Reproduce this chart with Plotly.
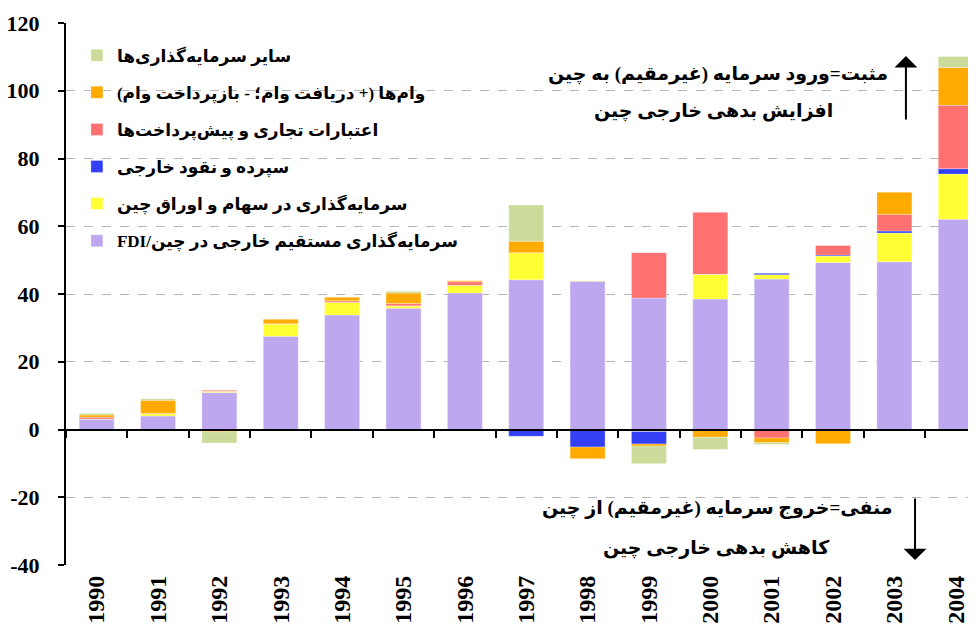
import plotly.graph_objects as go

# Years on the x axis
years = [str(y) for y in range(1990, 2005)]

# Capital flow components (billion USD)
fdi = [3.1, 4.0, 10.9, 27.5, 33.8, 35.8, 40.3, 44.2, 43.8, 38.8, 38.5, 44.4, 49.3, 49.5, 62.1]
portfolio = [0, 0.7, 0.4, 3.7, 3.8, 0.7, 2.3, 8.0, 0.2, -0.6, 7.3, 1.3, 1.9, 8.5, 13.3]
deposits = [0, 0, 0, 0, 0, 0, 0, -2.0, -5.2, -3.7, 0, 0.4, 0.3, 0.6, 1.6]
trade_credit = [0.5, 0, 0.3, 0, 0.4, 0.7, 1.0, 0, 0, 13.4, 18.3, -2.5, 2.9, 4.9, 18.7]
loans = [0.7, 3.9, -0.7, 1.4, 1.1, 3.1, 0.4, 3.4, -3.4, -0.6, -2.3, -1.4, -4.2, 6.6, 11.2]
other = [0.5, 0.5, -3.3, 0, 0, 0.5, 0, 10.7, 0, -5.2, -3.6, -0.5, 0, 0, 3.2]

y_ticks = [-40, -20, 0, 20, 40, 60, 80, 100, 120]

RLE, PDF = "\u202b", "\u202c"
series = [
    ("FDI/" + "سرمایه‌گذاری مستقیم خارجی در چین", fdi, "#BDA7EF"),
    (RLE + "سرمایه‌گذاری در سهام و اوراق چین" + PDF, portfolio, "#FFFF33"),
    (RLE + "سپرده و نقود خارجی" + PDF, deposits, "#3340F5"),
    (RLE + "اعتبارات تجاری و پیش‌پرداخت‌ها" + PDF, trade_credit, "#FF7070"),
    (RLE + "وام‌ها (+ دریافت وام؛ - بازپرداخت وام)" + PDF, loans, "#FFAA00"),
    (RLE + "سایر سرمایه‌گذاری‌ها" + PDF, other, "#CBDC9A"),
]

fig = go.Figure()
for i, (name, vals, color) in enumerate(series):
    fig.add_trace(go.Bar(
        x=years, y=vals, name=name, legendgroup=str(i), legendrank=len(series) - i,
        marker=dict(color=color, line=dict(color="rgba(255,255,255,0.6)", width=0.5)),
    ))

# invisible helper so the zero-line axis carries the category ticks
fig.add_trace(go.Scatter(x=years, y=[0] * len(years), xaxis="x2", mode="markers",
                         marker=dict(opacity=0), showlegend=False, hoverinfo="skip"))

serif = "Liberation Serif, DejaVu Sans"
fa_font = dict(family=serif, size=19, color="black", weight="bold")
tick_font = dict(family="Liberation Serif", size=22, color="black", weight="bold")

# page body has an 8px margin, so margins are trimmed by 8px on the left/top;
# the original plot runs a little past the right edge, hence the short x range
fig.update_layout(
    barmode="relative",
    bargap=0.43,
    width=976, height=633,
    margin=dict(l=58, r=8, t=15, b=76, autoexpand=False),
    plot_bgcolor="white", paper_bgcolor="white",
    showlegend=True,
    legend=dict(x=0.012, y=0.973, xanchor="left", yanchor="top",
                traceorder="grouped", tracegroupgap=12,
                font=dict(family=serif, size=17, color="black", weight="bold"),
                bgcolor="rgba(0,0,0,0)"),
    xaxis=dict(type="category", range=[-0.5, 14.33], showline=False, ticks="", showgrid=False,
               tickangle=-90, automargin=False, ticklabelstandoff=5,
               tickfont=dict(tick_font, size=24)),
    xaxis2=dict(type="category", overlaying="x", matches="x", anchor="free", position=0.25,
                showline=True, linecolor="black", linewidth=2,
                ticks="outside", tickson="boundaries", ticklen=7, tickwidth=2, tickcolor="black",
                showticklabels=False, showgrid=False),
    yaxis=dict(range=[-40, 120], tickvals=y_ticks, ticktext=[str(v) for v in y_ticks],
               showline=True, linecolor="black", linewidth=2, automargin=False,
               ticks="outside", ticklen=6, tickwidth=2, tickcolor="black", ticklabelstandoff=14,
               showgrid=True, gridcolor="#B5B5B5", griddash="dash", gridwidth=1,
               zeroline=False, tickfont=tick_font),
)

notes = [
    (0.716, 0.906, "مثبت=ورود سرمایه (غیرمقیم) به چین"),
    (0.712, 0.837, "افزایش بدهی خارجی چین"),
    (0.716, 0.105, "منفی=خروج سرمایه (غیرمقیم) از چین"),
    (0.715, 0.031, "کاهش بدهی خارجی چین"),
]
for x, y, t in notes:
    fig.add_annotation(x=x, y=y, xref="paper", yref="paper", text=RLE + t + PDF,
                       xanchor="center", yanchor="middle", showarrow=False, font=fa_font)

# direction arrows
fig.add_annotation(x=0.923, y=0.939, xref="paper", yref="paper", text="", showarrow=True,
                   ax=0, ay=65, arrowhead=1, arrowsize=1.9, arrowwidth=2, arrowcolor="black")
fig.add_annotation(x=0.933, y=0.009, xref="paper", yref="paper", text="", showarrow=True,
                   ax=0, ay=-63, arrowhead=1, arrowsize=1.9, arrowwidth=2, arrowcolor="black")

fig.write_html("out.html")
